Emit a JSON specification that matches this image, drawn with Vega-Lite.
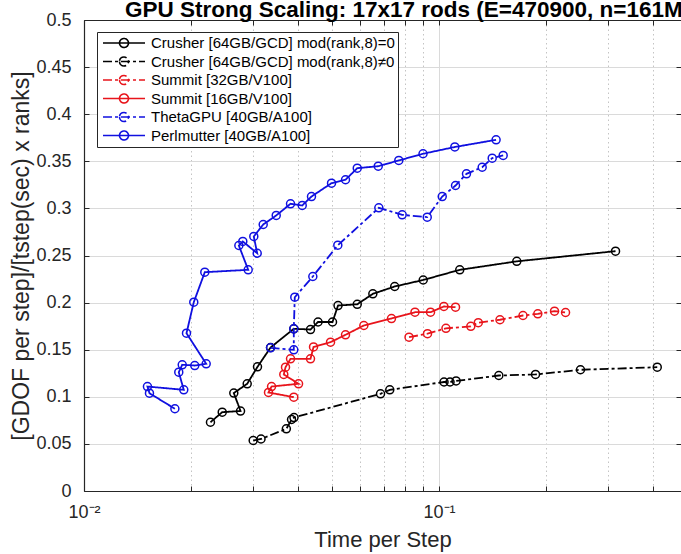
{
  "$schema": "https://vega.github.io/schema/vega-lite/v6.json",
  "autosize": {"type": "none"},
  "width": 597,
  "height": 471,
  "padding": {"left": 84, "top": 20, "right": 0, "bottom": 63},
  "background": "white",
  "config": {
    "view": {"stroke": null},
    "font": "Liberation Sans",
    "axis": {"labelFont": "Liberation Sans", "titleFont": "Liberation Sans", "labelColor": "#262626", "titleColor": "#262626", "domainColor": "#262626", "tickColor": "#262626"}
  },
  "title": {
    "text": "GPU Strong Scaling: 17x17 rods (E=470900, n=161M",
    "anchor": "start",
    "frame": "group",
    "dx": 41,
    "dy": 32,
    "fontSize": 22.5,
    "fontWeight": "bold",
    "font": "Liberation Sans",
    "color": "black",
    "baseline": "alphabetic",
    "offset": 4
  },
  "data": {
    "values": [
      {"s": "Crusher [64GB/GCD] mod(rank,8)=0", "i": 1, "x": 0.02271, "y": 0.0730},
      {"s": "Crusher [64GB/GCD] mod(rank,8)=0", "i": 2, "x": 0.02451, "y": 0.0837},
      {"s": "Crusher [64GB/GCD] mod(rank,8)=0", "i": 3, "x": 0.02760, "y": 0.0849},
      {"s": "Crusher [64GB/GCD] mod(rank,8)=0", "i": 4, "x": 0.02642, "y": 0.1040},
      {"s": "Crusher [64GB/GCD] mod(rank,8)=0", "i": 5, "x": 0.02882, "y": 0.1138},
      {"s": "Crusher [64GB/GCD] mod(rank,8)=0", "i": 6, "x": 0.03081, "y": 0.1318},
      {"s": "Crusher [64GB/GCD] mod(rank,8)=0", "i": 7, "x": 0.03353, "y": 0.1523},
      {"s": "Crusher [64GB/GCD] mod(rank,8)=0", "i": 8, "x": 0.03899, "y": 0.1722},
      {"s": "Crusher [64GB/GCD] mod(rank,8)=0", "i": 9, "x": 0.04345, "y": 0.1714},
      {"s": "Crusher [64GB/GCD] mod(rank,8)=0", "i": 10, "x": 0.04563, "y": 0.1794},
      {"s": "Crusher [64GB/GCD] mod(rank,8)=0", "i": 11, "x": 0.05012, "y": 0.1794},
      {"s": "Crusher [64GB/GCD] mod(rank,8)=0", "i": 12, "x": 0.05194, "y": 0.1969},
      {"s": "Crusher [64GB/GCD] mod(rank,8)=0", "i": 13, "x": 0.05884, "y": 0.1982},
      {"s": "Crusher [64GB/GCD] mod(rank,8)=0", "i": 14, "x": 0.06510, "y": 0.2093},
      {"s": "Crusher [64GB/GCD] mod(rank,8)=0", "i": 15, "x": 0.07502, "y": 0.2171},
      {"s": "Crusher [64GB/GCD] mod(rank,8)=0", "i": 16, "x": 0.09026, "y": 0.2240},
      {"s": "Crusher [64GB/GCD] mod(rank,8)=0", "i": 17, "x": 0.1144, "y": 0.2348},
      {"s": "Crusher [64GB/GCD] mod(rank,8)=0", "i": 18, "x": 0.1656, "y": 0.2438},
      {"s": "Crusher [64GB/GCD] mod(rank,8)=0", "i": 19, "x": 0.3142, "y": 0.2546},

      {"s": "Crusher [64GB/GCD] mod(rank,8)≠0", "i": 1, "x": 0.02996, "y": 0.0536},
      {"s": "Crusher [64GB/GCD] mod(rank,8)≠0", "i": 2, "x": 0.03152, "y": 0.0552},
      {"s": "Crusher [64GB/GCD] mod(rank,8)≠0", "i": 3, "x": 0.03715, "y": 0.0660},
      {"s": "Crusher [64GB/GCD] mod(rank,8)≠0", "i": 4, "x": 0.03842, "y": 0.0759},
      {"s": "Crusher [64GB/GCD] mod(rank,8)≠0", "i": 5, "x": 0.03904, "y": 0.0780},
      {"s": "Crusher [64GB/GCD] mod(rank,8)≠0", "i": 6, "x": 0.06843, "y": 0.1032},
      {"s": "Crusher [64GB/GCD] mod(rank,8)≠0", "i": 7, "x": 0.07266, "y": 0.1074},
      {"s": "Crusher [64GB/GCD] mod(rank,8)≠0", "i": 8, "x": 0.1033, "y": 0.1157},
      {"s": "Crusher [64GB/GCD] mod(rank,8)≠0", "i": 9, "x": 0.1074, "y": 0.1157},
      {"s": "Crusher [64GB/GCD] mod(rank,8)≠0", "i": 10, "x": 0.1117, "y": 0.1168},
      {"s": "Crusher [64GB/GCD] mod(rank,8)≠0", "i": 11, "x": 0.1474, "y": 0.1226},
      {"s": "Crusher [64GB/GCD] mod(rank,8)≠0", "i": 12, "x": 0.1870, "y": 0.1237},
      {"s": "Crusher [64GB/GCD] mod(rank,8)≠0", "i": 13, "x": 0.2503, "y": 0.1287},
      {"s": "Crusher [64GB/GCD] mod(rank,8)≠0", "i": 14, "x": 0.4118, "y": 0.1314},

      {"s": "Summit [32GB/V100]", "i": 1, "x": 0.08233, "y": 0.1633},
      {"s": "Summit [32GB/V100]", "i": 2, "x": 0.09281, "y": 0.1670},
      {"s": "Summit [32GB/V100]", "i": 3, "x": 0.1046, "y": 0.1727},
      {"s": "Summit [32GB/V100]", "i": 4, "x": 0.1229, "y": 0.1748},
      {"s": "Summit [32GB/V100]", "i": 5, "x": 0.1290, "y": 0.1787},
      {"s": "Summit [32GB/V100]", "i": 6, "x": 0.1485, "y": 0.1818},
      {"s": "Summit [32GB/V100]", "i": 7, "x": 0.1724, "y": 0.1863},
      {"s": "Summit [32GB/V100]", "i": 8, "x": 0.1898, "y": 0.1881},
      {"s": "Summit [32GB/V100]", "i": 9, "x": 0.2115, "y": 0.1909},
      {"s": "Summit [32GB/V100]", "i": 10, "x": 0.2272, "y": 0.1895},

      {"s": "Summit [16GB/V100]", "i": 1, "x": 0.03899, "y": 0.0996},
      {"s": "Summit [16GB/V100]", "i": 2, "x": 0.03309, "y": 0.1046},
      {"s": "Summit [16GB/V100]", "i": 3, "x": 0.03375, "y": 0.1109},
      {"s": "Summit [16GB/V100]", "i": 4, "x": 0.04021, "y": 0.1138},
      {"s": "Summit [16GB/V100]", "i": 5, "x": 0.03654, "y": 0.1237},
      {"s": "Summit [16GB/V100]", "i": 6, "x": 0.03695, "y": 0.1314},
      {"s": "Summit [16GB/V100]", "i": 7, "x": 0.03817, "y": 0.1403},
      {"s": "Summit [16GB/V100]", "i": 8, "x": 0.04345, "y": 0.1403},
      {"s": "Summit [16GB/V100]", "i": 9, "x": 0.04431, "y": 0.1529},
      {"s": "Summit [16GB/V100]", "i": 10, "x": 0.04948, "y": 0.1580},
      {"s": "Summit [16GB/V100]", "i": 11, "x": 0.05453, "y": 0.1658},
      {"s": "Summit [16GB/V100]", "i": 12, "x": 0.06141, "y": 0.1757},
      {"s": "Summit [16GB/V100]", "i": 13, "x": 0.07347, "y": 0.1831},
      {"s": "Summit [16GB/V100]", "i": 14, "x": 0.08556, "y": 0.1898},
      {"s": "Summit [16GB/V100]", "i": 15, "x": 0.09464, "y": 0.1898},
      {"s": "Summit [16GB/V100]", "i": 16, "x": 0.1032, "y": 0.1959},
      {"s": "Summit [16GB/V100]", "i": 17, "x": 0.1113, "y": 0.1951},

      {"s": "ThetaGPU [40GB/A100]", "i": 1, "x": 0.03353, "y": 0.1520},
      {"s": "ThetaGPU [40GB/A100]", "i": 2, "x": 0.03899, "y": 0.1499},
      {"s": "ThetaGPU [40GB/A100]", "i": 3, "x": 0.03899, "y": 0.1722},
      {"s": "ThetaGPU [40GB/A100]", "i": 4, "x": 0.03924, "y": 0.2057},
      {"s": "ThetaGPU [40GB/A100]", "i": 5, "x": 0.04411, "y": 0.2277},
      {"s": "ThetaGPU [40GB/A100]", "i": 6, "x": 0.05187, "y": 0.2609},
      {"s": "ThetaGPU [40GB/A100]", "i": 7, "x": 0.06768, "y": 0.3006},
      {"s": "ThetaGPU [40GB/A100]", "i": 8, "x": 0.07875, "y": 0.2932},
      {"s": "ThetaGPU [40GB/A100]", "i": 9, "x": 0.09264, "y": 0.2907},
      {"s": "ThetaGPU [40GB/A100]", "i": 10, "x": 0.1021, "y": 0.3126},
      {"s": "ThetaGPU [40GB/A100]", "i": 11, "x": 0.1113, "y": 0.3243},
      {"s": "ThetaGPU [40GB/A100]", "i": 12, "x": 0.1195, "y": 0.3367},
      {"s": "ThetaGPU [40GB/A100]", "i": 13, "x": 0.1323, "y": 0.3437},
      {"s": "ThetaGPU [40GB/A100]", "i": 14, "x": 0.1412, "y": 0.3533},
      {"s": "ThetaGPU [40GB/A100]", "i": 15, "x": 0.1516, "y": 0.3562},

      {"s": "Perlmutter [40GB/A100]", "i": 1, "x": 0.01803, "y": 0.0873},
      {"s": "Perlmutter [40GB/A100]", "i": 2, "x": 0.01529, "y": 0.1038},
      {"s": "Perlmutter [40GB/A100]", "i": 3, "x": 0.01509, "y": 0.1109},
      {"s": "Perlmutter [40GB/A100]", "i": 4, "x": 0.01910, "y": 0.1074},
      {"s": "Perlmutter [40GB/A100]", "i": 5, "x": 0.01849, "y": 0.1261},
      {"s": "Perlmutter [40GB/A100]", "i": 6, "x": 0.01891, "y": 0.1340},
      {"s": "Perlmutter [40GB/A100]", "i": 7, "x": 0.02051, "y": 0.1332},
      {"s": "Perlmutter [40GB/A100]", "i": 8, "x": 0.02209, "y": 0.1350},
      {"s": "Perlmutter [40GB/A100]", "i": 9, "x": 0.01944, "y": 0.1675},
      {"s": "Perlmutter [40GB/A100]", "i": 10, "x": 0.02038, "y": 0.2004},
      {"s": "Perlmutter [40GB/A100]", "i": 11, "x": 0.02189, "y": 0.2323},
      {"s": "Perlmutter [40GB/A100]", "i": 12, "x": 0.02901, "y": 0.2348},
      {"s": "Perlmutter [40GB/A100]", "i": 13, "x": 0.02730, "y": 0.2606},
      {"s": "Perlmutter [40GB/A100]", "i": 14, "x": 0.02801, "y": 0.2649},
      {"s": "Perlmutter [40GB/A100]", "i": 15, "x": 0.03075, "y": 0.2524},
      {"s": "Perlmutter [40GB/A100]", "i": 16, "x": 0.03008, "y": 0.2702},
      {"s": "Perlmutter [40GB/A100]", "i": 17, "x": 0.03197, "y": 0.2829},
      {"s": "Perlmutter [40GB/A100]", "i": 18, "x": 0.03479, "y": 0.2925},
      {"s": "Perlmutter [40GB/A100]", "i": 19, "x": 0.03817, "y": 0.3049},
      {"s": "Perlmutter [40GB/A100]", "i": 20, "x": 0.04118, "y": 0.3031},
      {"s": "Perlmutter [40GB/A100]", "i": 21, "x": 0.04373, "y": 0.3126},
      {"s": "Perlmutter [40GB/A100]", "i": 22, "x": 0.04980, "y": 0.3268},
      {"s": "Perlmutter [40GB/A100]", "i": 23, "x": 0.05453, "y": 0.3304},
      {"s": "Perlmutter [40GB/A100]", "i": 24, "x": 0.05884, "y": 0.3427},
      {"s": "Perlmutter [40GB/A100]", "i": 25, "x": 0.06742, "y": 0.3448},
      {"s": "Perlmutter [40GB/A100]", "i": 26, "x": 0.07704, "y": 0.3509},
      {"s": "Perlmutter [40GB/A100]", "i": 27, "x": 0.09015, "y": 0.3580},
      {"s": "Perlmutter [40GB/A100]", "i": 28, "x": 0.1108, "y": 0.3652},
      {"s": "Perlmutter [40GB/A100]", "i": 29, "x": 0.1448, "y": 0.3728}
    ]
  },
  "layer": [
    {
      "mark": {"type": "line", "strokeWidth": 1.8, "clip": true},
      "encoding": {
        "x": {
          "field": "x", "type": "quantitative",
          "scale": {"type": "log", "domain": [0.01, 0.4804], "nice": false},
          "axis": {
            "orient": "bottom",
            "values": [0.01, 0.02, 0.03, 0.04, 0.05, 0.06, 0.07, 0.08, 0.09, 0.1, 0.2, 0.3, 0.4],
            "labelExpr": "datum.value == 0.01 ? '10⁻²' : (datum.value == 0.1 ? '10⁻¹' : '')",
            "labelFontSize": 18,
            "labelPadding": 17,
            "labelFlush": false,
            "labelOverlap": false,
            "tickSize": -5,
            "tickWidth": 1,
            "domainWidth": 1.2,
            "grid": true,
            "gridColor": {"condition": {"test": "datum.value == 0.01 || datum.value == 0.1", "value": "#dadada"}, "value": "#c4c4c4"},
            "gridDash": {"condition": {"test": "datum.value == 0.01 || datum.value == 0.1", "value": []}, "value": [1.5, 3]},
            "gridWidth": 1,
            "title": "Time per Step",
            "titleFontSize": 22,
            "titleFontWeight": "normal",
            "titlePadding": 8
          }
        },
        "y": {
          "field": "y", "type": "quantitative",
          "scale": {"domain": [0, 0.5], "nice": false, "zero": true},
          "axis": {
            "orient": "left",
            "values": [0, 0.05, 0.1, 0.15, 0.2, 0.25, 0.3, 0.35, 0.4, 0.45, 0.5],
            "format": "~g",
            "labelFontSize": 18,
            "labelPadding": 18,
            "tickSize": -5,
            "domainWidth": 1.2,
            "grid": true,
            "gridColor": "#dadada",
            "gridWidth": 1,
            "title": "[GDOF per step]/[tstep(sec) x ranks]",
            "titleFontSize": 23,
            "titleFontWeight": "normal",
            "titlePadding": 2
          }
        },
        "color": {
          "field": "s", "type": "nominal",
          "scale": {
            "domain": ["Crusher [64GB/GCD] mod(rank,8)=0", "Crusher [64GB/GCD] mod(rank,8)≠0", "Summit [32GB/V100]", "Summit [16GB/V100]", "ThetaGPU [40GB/A100]", "Perlmutter [40GB/A100]"],
            "range": ["#000000", "#000000", "#e8141b", "#e8141b", "#1010e0", "#1010e0"]
          },
          "legend": {
            "orient": "none",
            "legendX": 13,
            "legendY": 12,
            "title": null,
            "symbolType": "M-1,0L1,0M-0.214,0A0.214,0.214,0,1,0,0.214,0A0.214,0.214,0,1,0,-0.214,0",
            "symbolSize": 1764,
            "symbolStrokeWidth": 1.6,
            "symbolFillColor": "transparent",
            "labelFontSize": 15,
            "labelFont": "Liberation Sans",
            "labelColor": "#000000",
            "labelLimit": 400,
            "clipHeight": 16,
            "rowPadding": 2.5,
            "padding": 3,
            "symbolOffset": 2,
            "labelOffset": 5,
            "strokeColor": "#262626",
            "fillColor": "white",
            "cornerRadius": 0
          }
        },
        "strokeDash": {
          "field": "s", "type": "nominal",
          "scale": {
            "domain": ["Crusher [64GB/GCD] mod(rank,8)=0", "Crusher [64GB/GCD] mod(rank,8)≠0", "Summit [32GB/V100]", "Summit [16GB/V100]", "ThetaGPU [40GB/A100]", "Perlmutter [40GB/A100]"],
            "range": [[1, 0], [9, 3, 3, 3], [9, 3, 3, 3], [1, 0], [9, 3, 3, 3], [1, 0]]
          }
        },
        "order": {"field": "i", "type": "quantitative"}
      }
    },
    {
      "mark": {"type": "point", "shape": "circle", "filled": false, "size": 64, "strokeWidth": 1.5, "opacity": 1, "clip": true},
      "encoding": {
        "x": {
          "field": "x", "type": "quantitative",
          "axis": {
            "orient": "top",
            "values": [0.01, 0.02, 0.03, 0.04, 0.05, 0.06, 0.07, 0.08, 0.09, 0.1, 0.2, 0.3, 0.4],
            "labels": false,
            "grid": false,
            "tickSize": -5,
            "domainWidth": 1.2,
            "title": null
          }
        },
        "y": {
          "field": "y", "type": "quantitative",
          "axis": {
            "orient": "right",
            "values": [0, 0.05, 0.1, 0.15, 0.2, 0.25, 0.3, 0.35, 0.4, 0.45, 0.5],
            "labels": false,
            "grid": false,
            "domain": false,
            "tickSize": -5,
            "title": null
          }
        },
        "color": {"field": "s", "type": "nominal", "legend": null}
      }
    }
  ],
  "resolve": {"axis": {"x": "independent", "y": "independent"}}
}
